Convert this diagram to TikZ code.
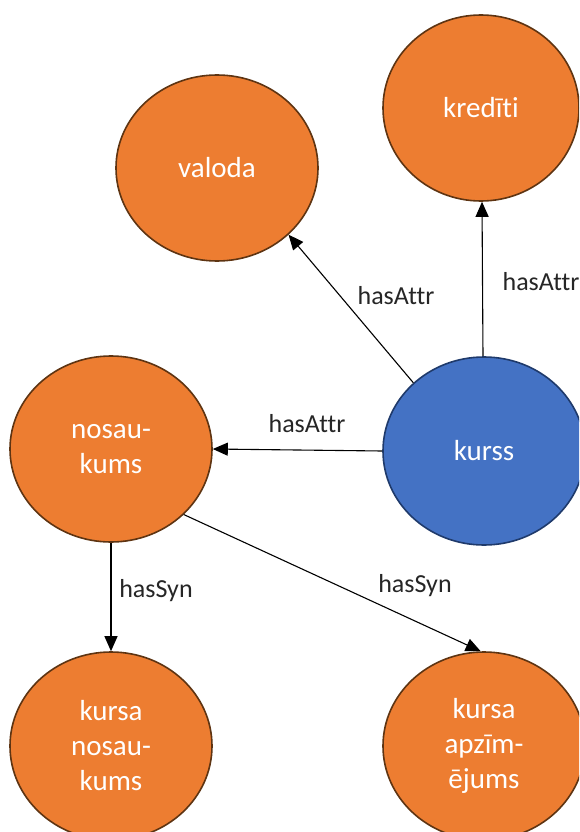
\documentclass[tikz,border=0pt]{standalone}
\usepackage{fontspec}
\setmainfont{Carlito}[Ligatures=NoCommon]
\usetikzlibrary{shapes.geometric,arrows.meta}
\definecolor{nodeorange}{HTML}{ED7D31}
\definecolor{orangeedge}{HTML}{5E3412}
\definecolor{nodeblue}{HTML}{4472C4}
\definecolor{blueedge}{HTML}{1F3A6B}
\definecolor{labelgray}{HTML}{262626}
\begin{document}
\begin{tikzpicture}[x=1pt,y=-1pt,
  concept/.style={ellipse,inner sep=0pt,line width=1.6pt,text=white,align=center,
    minimum width=202pt,minimum height=186pt,font=\fontsize{29}{35}\selectfont},
  attr/.style={concept,fill=nodeorange,draw=orangeedge},
  main/.style={concept,fill=nodeblue,draw=blueedge},
  rel/.style={line width=1.1pt,-{Triangle[length=15pt,width=13pt]}},
  rellabel/.style={anchor=base,inner sep=0pt,text=labelgray,font=\fontsize{26}{30}\selectfont}]
  \clip (0,0) rectangle (579,832);
  \useasboundingbox (0,0) rectangle (579,832);

  % concepts
  \node[attr] (valoda) at (217,168) {valoda};
  \node[attr,minimum width=196pt] (krediti) at (481,108) {kredīti};
  \node[main,minimum height=188pt] (kurss) at (484,451) {kurss};
  \node[attr] (nosaukums) at (111,449) {nosau-\\kums};
  \node[attr,minimum height=188pt] (kursanos) at (111,746) {kursa\\nosau-\\kums};
  \node[attr,minimum height=188pt] (kursaapz) at (484,746) {kursa\\apzīm-\\ējums};

  % relations
  \draw[rel] (kurss.136) -- (valoda.-43);
  \draw[rel] ([xshift=-1pt]kurss.north) -- ([xshift=1pt]krediti.south);
  \draw[rel] (kurss.west) -- (nosaukums.east);
  \draw[rel] (nosaukums.south) -- (kursanos.north);
  \draw[rel] (nosaukums.-42) -- (kursaapz.92);

  % relation labels
  \node[rellabel] (l1) at (396,304) {hasAttr};
  \node[rellabel] (l2) at (541,290) {hasAttr};
  \node[rellabel] (l3) at (307,432) {hasAttr};
  \node[rellabel] (l4) at (156,597) {hasSyn};
  \node[rellabel] (l5) at (415,592) {hasSyn};
\end{tikzpicture}
\end{document}
